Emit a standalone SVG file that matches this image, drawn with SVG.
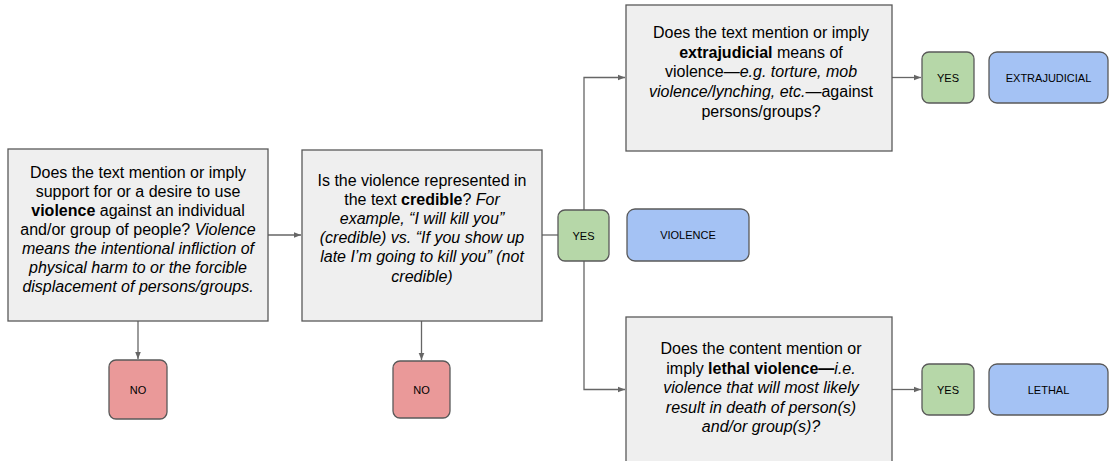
<svg xmlns="http://www.w3.org/2000/svg" width="1110" height="461" viewBox="0 0 1110 461">
<style>
  text { font-family: "Liberation Sans", Arial, sans-serif; fill: #000; }
  .q { font-size: 16px; text-anchor: middle; }
  .s { font-size: 11px; text-anchor: middle; }
  .b { font-weight: bold; }
  .i { font-style: italic; }
  .box { fill: #efefef; stroke: #595959; stroke-width: 1.3; }
  .yes { fill: #b6d7a8; stroke: #595959; stroke-width: 1.3; }
  .no { fill: #ea9999; stroke: #595959; stroke-width: 1.3; }
  .res { fill: #a4c2f4; stroke: #595959; stroke-width: 1.3; }
  .c { fill: none; stroke: #666666; stroke-width: 1.3; }
</style>
<defs>
  <marker id="ah" viewBox="0 0 10 10" refX="10" refY="5" markerWidth="7" markerHeight="7" markerUnits="userSpaceOnUse" orient="auto">
    <path d="M0,1 L10,5 L0,9 z" fill="#666666"/>
  </marker>
</defs>
<g id="connectors">
  <line class="c" x1="268" y1="235" x2="301" y2="235" marker-end="url(#ah)"/>
  <line class="c" x1="542" y1="235" x2="558" y2="235"/>
  <polyline class="c" points="584,210 584,77.5 625,77.5" marker-end="url(#ah)"/>
  <polyline class="c" points="584,261 584,389.5 625,389.5" marker-end="url(#ah)"/>
  <line class="c" x1="892" y1="77.5" x2="921" y2="77.5" marker-end="url(#ah)"/>
  <line class="c" x1="892" y1="389.5" x2="921" y2="389.5" marker-end="url(#ah)"/>
  <line class="c" x1="138" y1="321" x2="138" y2="359" marker-end="url(#ah)"/>
  <line class="c" x1="421.5" y1="321" x2="421.5" y2="360" marker-end="url(#ah)"/>
</g>
<g id="q1">
  <rect class="box" x="8" y="149" width="260" height="172"/>
  <text class="q" x="138" y="177.5">Does the text mention or imply</text>
  <text class="q" x="138" y="196.6">support for or a desire to use</text>
  <text class="q" x="138" y="215.7"><tspan class="b">violence</tspan> against an individual</text>
  <text class="q" x="138" y="234.8">and/or group of people? <tspan class="i">Violence</tspan></text>
  <text class="q i" x="138" y="253.9">means the intentional infliction of</text>
  <text class="q i" x="138" y="273">physical harm to or the forcible</text>
  <text class="q i" x="138" y="292.1">displacement of persons/groups.</text>
</g>
<g id="no1">
  <rect class="no" x="109" y="360" width="58" height="59" rx="7"/>
  <text class="s" x="138" y="393.5">NO</text>
</g>
<g id="q2">
  <rect class="box" x="302" y="150" width="240" height="171"/>
  <text class="q" x="422" y="186">Is the violence represented in</text>
  <text class="q" x="422" y="205.1">the text <tspan class="b">credible</tspan>? <tspan class="i">For</tspan></text>
  <text class="q i" x="422" y="224.2">example, “I will kill you”</text>
  <text class="q i" x="422" y="243.3">(credible) vs. “If you show up</text>
  <text class="q i" x="422" y="262.4">late I’m going to kill you” (not</text>
  <text class="q i" x="422" y="281.5">credible)</text>
</g>
<g id="no2">
  <rect class="no" x="393" y="361" width="57" height="57" rx="7"/>
  <text class="s" x="421.5" y="393.5">NO</text>
</g>
<g id="yes1">
  <rect class="yes" x="558" y="210" width="51" height="51" rx="7"/>
  <text class="s" x="583.5" y="239.5">YES</text>
</g>
<g id="violence">
  <rect class="res" x="627" y="209" width="122" height="52" rx="8"/>
  <text class="s" x="688" y="239">VIOLENCE</text>
</g>
<g id="q3">
  <rect class="box" x="626" y="5" width="266" height="146"/>
  <text class="q" x="761" y="37.8">Does the text mention or imply</text>
  <text class="q" x="761" y="57.5"><tspan class="b">extrajudicial</tspan> means of</text>
  <text class="q" x="761" y="77.2">violence—<tspan class="i">e.g. torture, mob</tspan></text>
  <text class="q" x="761" y="96.9"><tspan class="i">violence/lynching, etc.</tspan>—against</text>
  <text class="q" x="761" y="116.6">persons/groups?</text>
</g>
<g id="yes2">
  <rect class="yes" x="922" y="52" width="52" height="51" rx="7"/>
  <text class="s" x="948" y="81.5">YES</text>
</g>
<g id="extrajudicial">
  <rect class="res" x="989" y="52" width="119" height="51" rx="8"/>
  <text class="s" x="1048.5" y="81.5">EXTRAJUDICIAL</text>
</g>
<g id="q4">
  <rect class="box" x="626" y="317" width="266" height="160"/>
  <text class="q" x="761" y="354">Does the content mention or</text>
  <text class="q" x="761" y="373.5">imply <tspan class="b">lethal violence—</tspan><tspan class="i">i.e.</tspan></text>
  <text class="q i" x="761" y="393">violence that will most likely</text>
  <text class="q i" x="761" y="412.5">result in death of person(s)</text>
  <text class="q i" x="761" y="432">and/or group(s)?</text>
</g>
<g id="yes3">
  <rect class="yes" x="922" y="364" width="52" height="51" rx="7"/>
  <text class="s" x="948" y="393.5">YES</text>
</g>
<g id="lethal">
  <rect class="res" x="989" y="364" width="119" height="51" rx="8"/>
  <text class="s" x="1048.5" y="393.5">LETHAL</text>
</g>
</svg>
